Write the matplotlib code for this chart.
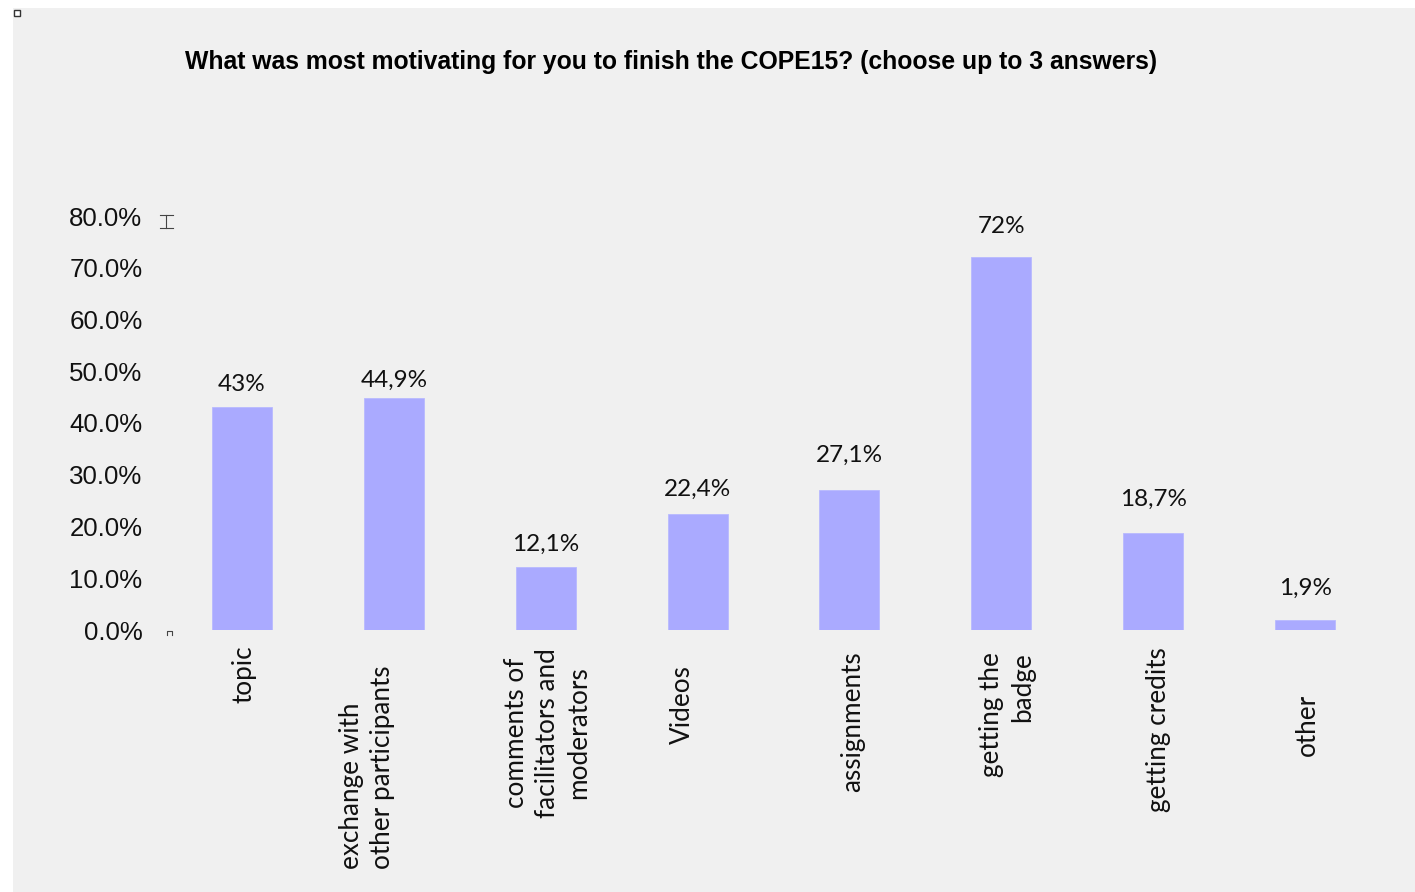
import matplotlib
matplotlib.use("Agg")
import matplotlib.pyplot as plt
from matplotlib.patches import Rectangle
from matplotlib.ticker import FuncFormatter

# survey answers, share of respondents in percent
categories = ["topic", "exchange with\nother participants",
              "comments of\nfacilitators and\nmoderators", "Videos",
              "assignments", "getting the\nbadge", "getting credits", "other"]
values = [43.0, 44.9, 12.1, 22.4, 27.1, 72.0, 18.7, 1.9]
value_labels = ["43%", "44,9%", "12,1%", "22,4%", "27,1%", "72%", "18,7%", "1,9%"]
yticks = [0, 10, 20, 30, 40, 50, 60, 70, 80]

# value label lift above each bar (pixels)
val_dy = [23, 17, 23, 25, 34, 31, 34, 32]
# category label placement (pixel offsets from the bar foot) and line alignment
lab_dx = [2.5, -27, 2, -15.5, 3.5, 5.5, 5, 2.5]
lab_dy = [-44, -137.5, -103, -75, -91.5, -85, -100, -95]
lab_align = ["center", "left", "center", "center", "center", "right", "center", "center"]

bg = "#f0f0f0"
bar_col = "#aaaaff"

fig = plt.figure(figsize=(14.15, 8.92), dpi=100)
fig.patch.set_facecolor("white")
W, H = 1415, 892
fig.patches.append(Rectangle((13 / W, 0), 1 - 13 / W, 1 - 8 / H,
                             transform=fig.transFigure, facecolor=bg,
                             edgecolor="none", zorder=-5))
# little handle square in the corner
fig.patches.append(Rectangle((14 / W, 1 - 16 / H), 6 / W, 6 / H,
                             transform=fig.transFigure, facecolor="white",
                             edgecolor="#333333", lw=1.0, zorder=-4))

ax = fig.add_axes([166 / W, 1 - 630 / H, (1381 - 166) / W, (630 - 216) / H])
ax.set_zorder(2)
ax.set_facecolor("none")
x = list(range(len(categories)))
ax.bar(x, values, width=0.395, color=bar_col, edgecolor="#b8b9ff", linewidth=0.6)
ax.set_xlim(-0.5, len(categories) - 0.5)
ax.set_ylim(0, 80)
ax.set_yticks(yticks)
ax.yaxis.set_major_formatter(FuncFormatter(lambda v, p: f"{v:.1f}%"))
ax.tick_params(axis="y", length=0, pad=17, labelsize=18.6, labelcolor="#111111")
for lbl in ax.get_yticklabels():
    lbl.set_fontfamily("Liberation Sans")
ax.set_xticks([])
for s in ax.spines.values():
    s.set_visible(False)

for i, (v, t) in enumerate(zip(values, value_labels)):
    ax.annotate(t, (i, v), xytext=(0, val_dy[i]), textcoords="offset pixels",
                ha="center", va="center", fontsize=17.5, family="Lato",
                color="#111111")

for i, c in enumerate(categories):
    ax.annotate(c, xy=(i, 0), xycoords=("data", "axes fraction"),
                xytext=(lab_dx[i], lab_dy[i]), textcoords="offset pixels",
                rotation=90, ha="center", va="center",
                multialignment=lab_align[i], fontsize=18.8, family="Lato",
                color="#111111", linespacing=1.3, annotation_clip=False)

# small selection handles at the axis corners
hc = "#444444"
ax.plot([-0.495, -0.495, -0.46, -0.46], [-1.0, -0.2, -0.2, -1.0],
        color=hc, lw=0.8, clip_on=False)
ax.plot([-0.54, -0.455], [80.2, 80.2], color=hc, lw=0.8, clip_on=False)
ax.plot([-0.54, -0.455], [77.7, 77.7], color=hc, lw=0.8, clip_on=False)
ax.plot([-0.5, -0.5], [80.2, 77.7], color=hc, lw=0.8, clip_on=False)

fig.text(671 / W, 1 - 62 / H,
         "What was most motivating for you to finish the COPE15? (choose up to 3 answers)",
         ha="center", va="center", fontsize=17.8, fontweight="bold",
         family="Liberation Sans", color="black")

fig.savefig("out.png", dpi=100, facecolor=fig.get_facecolor())
